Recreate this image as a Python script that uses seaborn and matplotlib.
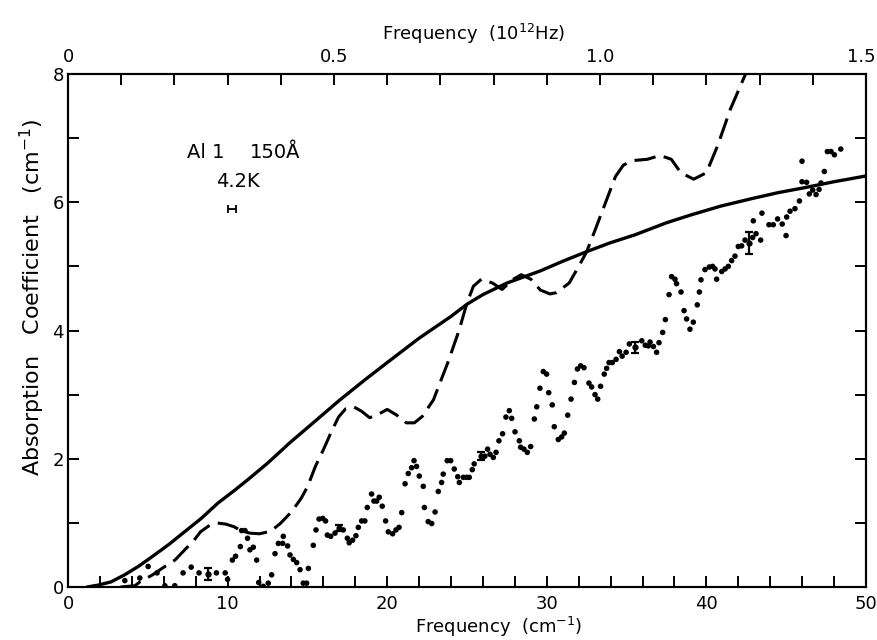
import numpy as np
import pandas as pd
import matplotlib
matplotlib.use("Agg")
import matplotlib.pyplot as plt
import seaborn as sns
from matplotlib.ticker import MultipleLocator, FuncFormatter

# ---------------- data ----------------
# solid curve (theory)
theory_x = [1.2, 1.9, 2.7, 3.55, 4.4, 5.2, 6.3, 7.3, 8.35, 9.4, 10.45, 11.3, 12.5, 13.9,
            15.5, 17.0, 18.6, 20.0, 22.0, 24.0, 25.0, 26.0, 27.5, 29.6, 31.0, 32.5, 34.0,
            35.5, 37.5, 39.0, 40.9, 42.9, 44.5, 46.0, 48.0, 50.0]
theory_y = [0.0, 0.03, 0.08, 0.19, 0.32, 0.46, 0.66, 0.86, 1.07, 1.31, 1.51, 1.68, 1.93, 2.25,
            2.59, 2.91, 3.23, 3.5, 3.88, 4.22, 4.41, 4.56, 4.74, 4.93, 5.08, 5.23, 5.37,
            5.49, 5.68, 5.8, 5.94, 6.06, 6.15, 6.22, 6.32, 6.41]

# dashed curve
model_x = [3.3, 4.2, 4.5, 5.3, 5.95, 6.7, 7.2, 7.9, 8.3, 8.8, 9.3, 9.9, 10.4, 10.9, 11.4,
           12.0, 12.7, 13.3, 14.0, 14.6, 15.0, 15.5, 16.0, 16.5, 16.95, 17.4, 17.9, 18.4,
           18.9, 19.5, 20.0, 20.6, 21.2, 21.7, 22.2, 22.9, 23.3, 23.8, 24.5, 25.0, 25.4,
           25.9, 26.6, 27.2, 27.9, 28.4, 29.0, 29.6, 30.2, 30.6, 31.4, 32.0, 32.5, 33.0,
           33.75, 34.3, 34.8, 35.4, 36.3, 37.1, 37.8, 38.4, 39.2, 40.0, 40.7, 41.5, 42.4, 42.8]
model_y = [0.0, 0.02, 0.08, 0.19, 0.3, 0.42, 0.55, 0.73, 0.86, 0.95, 1.0, 0.98, 0.94, 0.87, 0.84,
           0.83, 0.87, 0.99, 1.17, 1.38, 1.56, 1.88, 2.14, 2.42, 2.65, 2.78, 2.81, 2.74,
           2.64, 2.70, 2.77, 2.68, 2.56, 2.56, 2.66, 2.92, 3.18, 3.5, 4.0, 4.43, 4.69,
           4.8, 4.74, 4.64, 4.8, 4.87, 4.8, 4.63, 4.57, 4.59, 4.74, 5.0, 5.23, 5.55,
           6.04, 6.4, 6.58, 6.65, 6.67, 6.73, 6.67, 6.46, 6.36, 6.46, 6.88, 7.45, 7.97, 8.2]

# measured points
data_x = [3.56, 4.50, 5.02, 5.58, 6.07, 6.69, 7.21, 7.72, 8.21, 9.30, 9.85, 10.0, 10.3, 10.5,
          10.8, 10.88, 11.09, 11.25, 11.4, 11.61, 11.82, 11.95, 12.24, 12.55, 12.76, 12.97,
          13.18, 13.45, 13.49, 13.76, 13.91, 14.12, 14.33, 14.54, 14.74, 14.95, 15.06, 15.37,
          15.54, 15.73, 15.96, 16.14, 16.25, 16.46, 16.73, 17.25, 17.50, 17.62, 17.83, 18.04,
          18.19, 18.40, 18.60, 18.75, 19.02, 19.17, 19.34, 19.50, 19.69, 19.90, 20.07, 20.34,
          20.55, 20.74, 20.91, 21.12, 21.32, 21.53, 21.68, 21.84, 22.01, 22.26, 22.33, 22.57,
          22.79, 23.0, 23.20, 23.41, 23.51, 23.76, 23.98, 24.20, 24.42, 24.52, 24.77, 24.97,
          25.14, 25.33, 25.45, 26.12, 26.29, 26.44, 26.65, 26.82, 27.00, 27.23, 27.44, 27.65,
          27.80, 28.01, 28.28, 28.36, 28.57, 28.78, 28.99, 29.22, 29.37, 29.57, 29.78, 29.99,
          30.12, 30.34, 30.47, 30.72, 30.93, 31.10, 31.31, 31.52, 31.73, 31.92, 32.12, 32.33,
          32.64, 32.81, 33.02, 33.19, 33.37, 33.60, 33.75, 33.90, 34.10, 34.34, 34.55, 34.72,
          34.97, 35.17, 35.95, 36.17, 36.36, 36.47, 36.68, 36.88, 37.03, 37.26, 37.43, 37.66,
          37.82, 38.03, 38.13, 38.41, 38.60, 38.76, 38.97, 39.18, 39.43, 39.56, 39.66, 39.91,
          40.18, 40.39, 40.54, 40.64, 40.96, 41.17, 41.37, 41.58, 41.79, 42.00, 42.21, 42.42,
          42.90, 42.94, 43.11, 43.40, 43.48, 43.92, 44.19, 44.46, 44.75, 44.99, 45.03, 45.24,
          45.55, 45.83, 45.99, 45.99, 46.28, 46.45, 46.66, 46.87, 47.06, 47.18, 47.39, 47.58,
          47.81, 48.02, 48.42]
data_y = [0.10, 0.14, 0.32, 0.22, 0.02, 0.02, 0.22, 0.31, 0.22, 0.22, 0.22, 0.12, 0.42, 0.48,
          0.63, 0.88, 0.88, 0.76, 0.58, 0.62, 0.42, 0.07, 0.01, 0.06, 0.19, 0.52,
          0.68, 0.68, 0.79, 0.64, 0.50, 0.43, 0.38, 0.27, 0.06, 0.06, 0.29, 0.65,
          0.89, 1.06, 1.07, 1.03, 0.81, 0.79, 0.84, 0.89, 0.76, 0.69, 0.73, 0.80,
          0.93, 1.03, 1.03, 1.24, 1.45, 1.34, 1.34, 1.40, 1.26, 1.03, 0.86, 0.83,
          0.89, 0.93, 1.16, 1.61, 1.77, 1.86, 1.97, 1.88, 1.73, 1.57, 1.24, 1.02,
          0.99, 1.17, 1.49, 1.63, 1.76, 1.97, 1.97, 1.84, 1.72, 1.63, 1.71, 1.71,
          1.71, 1.83, 1.92, 2.04, 2.15, 2.07, 2.02, 2.10, 2.28, 2.39, 2.65, 2.75,
          2.63, 2.42, 2.28, 2.18, 2.15, 2.10, 2.19, 2.62, 2.81, 3.10, 3.36, 3.32,
          3.03, 2.84, 2.50, 2.30, 2.34, 2.40, 2.68, 2.93, 3.19, 3.40, 3.45, 3.42,
          3.18, 3.12, 3.00, 2.93, 3.13, 3.32, 3.41, 3.50, 3.50, 3.55, 3.67, 3.60,
          3.66, 3.79, 3.84, 3.77, 3.76, 3.82, 3.75, 3.66, 3.81, 3.97, 4.17, 4.56,
          4.84, 4.80, 4.73, 4.60, 4.31, 4.18, 4.02, 4.13, 4.40, 4.60, 4.79, 4.95,
          4.99, 5.00, 4.96, 4.80, 4.92, 4.96, 5.00, 5.09, 5.16, 5.31, 5.32, 5.41,
          5.45, 5.71, 5.51, 5.41, 5.83, 5.65, 5.65, 5.74, 5.66, 5.48, 5.77, 5.86,
          5.90, 6.02, 6.32, 6.64, 6.31, 6.13, 6.19, 6.12, 6.20, 6.30, 6.48, 6.79,
          6.79, 6.74, 6.83]

# points with vertical error bars
err_x = [8.76, 17.0, 25.85, 35.55, 42.67]
err_y = [0.20, 0.92, 2.04, 3.74, 5.37]
err_h = [0.09, 0.05, 0.06, 0.085, 0.17]

# resolution marker
res_x = [10.26]
res_y = [5.89]
res_w = [0.26]

x_ticklabels = ["0", "10", "20", "30", "40", "50"]
y_ticklabels = ["0", "2", "4", "6", "8"]
top_ticklabels = ["0", "0.5", "1.0", "1.5"]

# ---------------- figure ----------------
sns.set_theme(style="ticks")
plt.rcParams['font.family'] = ['DejaVu Sans']
plt.rcParams['axes.linewidth'] = 1.5

fig = plt.figure(figsize=(8.77, 6.4), dpi=100)
ax = fig.add_axes([68/877, 1-587/640, (866-68)/877, (587-74)/640])

theory = pd.DataFrame({"x": theory_x, "y": theory_y})
model = pd.DataFrame({"x": model_x, "y": model_y})
meas = pd.DataFrame({"x": data_x, "y": data_y})

sns.lineplot(data=theory, x="x", y="y", ax=ax, color="black", lw=2.4, sort=False,
             estimator=None)
sns.lineplot(data=model, x="x", y="y", ax=ax, color="black", lw=2.2, sort=False,
             estimator=None)
ax.lines[-1].set_dashes([7.0, 2.8])
sns.scatterplot(data=meas, x="x", y="y", ax=ax, color="black", s=16, edgecolor="none",
                linewidth=0)
ax.errorbar(err_x, err_y, yerr=err_h, fmt="o", ms=3.5, color="black", capsize=3,
            elinewidth=1.6, capthick=1.6)
ax.errorbar(res_x, res_y, xerr=res_w, fmt="none", ecolor="black", capsize=3,
            elinewidth=1.3, capthick=1.3)

ax.set_xlim(0, 50)
ax.set_ylim(0, 8)

ax.xaxis.set_major_locator(MultipleLocator(2))
ax.xaxis.set_major_formatter(FuncFormatter(
    lambda v, p: x_ticklabels[int(round(v)) // 10] if int(round(v)) % 10 == 0 else ""))
ax.yaxis.set_major_locator(MultipleLocator(1))
ax.yaxis.set_major_formatter(FuncFormatter(
    lambda v, p: y_ticklabels[int(round(v)) // 2] if int(round(v)) % 2 == 0 else ""))
ax.tick_params(axis="x", direction="in", length=8, width=1.4, bottom=True, top=False,
               labelsize=13, pad=6, colors="black")
ax.tick_params(axis="y", direction="in", length=8, width=1.4, left=True, right=True,
               labelsize=13, pad=3, colors="black")

ax.set_xlabel("Frequency  (cm$^{-1}$)", fontsize=13, color="black")
ax.xaxis.set_label_coords(0.54, -0.055)
ax.set_ylabel("Absorption   Coefficient   (cm$^{-1}$)", fontsize=16, color="black")
ax.yaxis.set_label_coords(-0.026, 0.565)

# top axis in 10^12 Hz; the last label ("1.5") is placed separately so it stays
# inside the canvas at the right edge
ax2 = ax.twiny()
ax2.set_xlim(0, 1.5)
ax2.xaxis.set_major_locator(MultipleLocator(0.1))
ax2.xaxis.set_major_formatter(FuncFormatter(
    lambda v, p: top_ticklabels[int(round(v * 10)) // 5]
    if (int(round(v * 10)) % 5 == 0 and int(round(v * 10)) < 15) else ""))
ax2.tick_params(axis="x", direction="in", length=8, width=1.4, labelsize=13, pad=6,
                colors="black")
ax2.set_xlabel("Frequency  (10$^{12}$Hz)", fontsize=13, color="black")
ax2.xaxis.set_label_coords(0.508, 1.066)
ax2.annotate(top_ticklabels[-1], xy=(1.5, 1.0), xycoords=("data", "axes fraction"),
             xytext=(7, 6), textcoords="offset points", ha="right", va="bottom",
             fontsize=13, color="black", annotation_clip=False)

for a in (ax, ax2):
    for s in a.spines.values():
        s.set_visible(True)
        s.set_color("black")
        s.set_linewidth(1.5)

ax.text(7.43, 6.78, "Al 1", fontsize=14, va="center", ha="left", color="black")
ax.text(11.4, 6.78, "150Å", fontsize=14, va="center", ha="left", color="black")
ax.text(9.27, 6.32, "4.2K", fontsize=14, va="center", ha="left", color="black")

fig.savefig("out.png", dpi=100)
